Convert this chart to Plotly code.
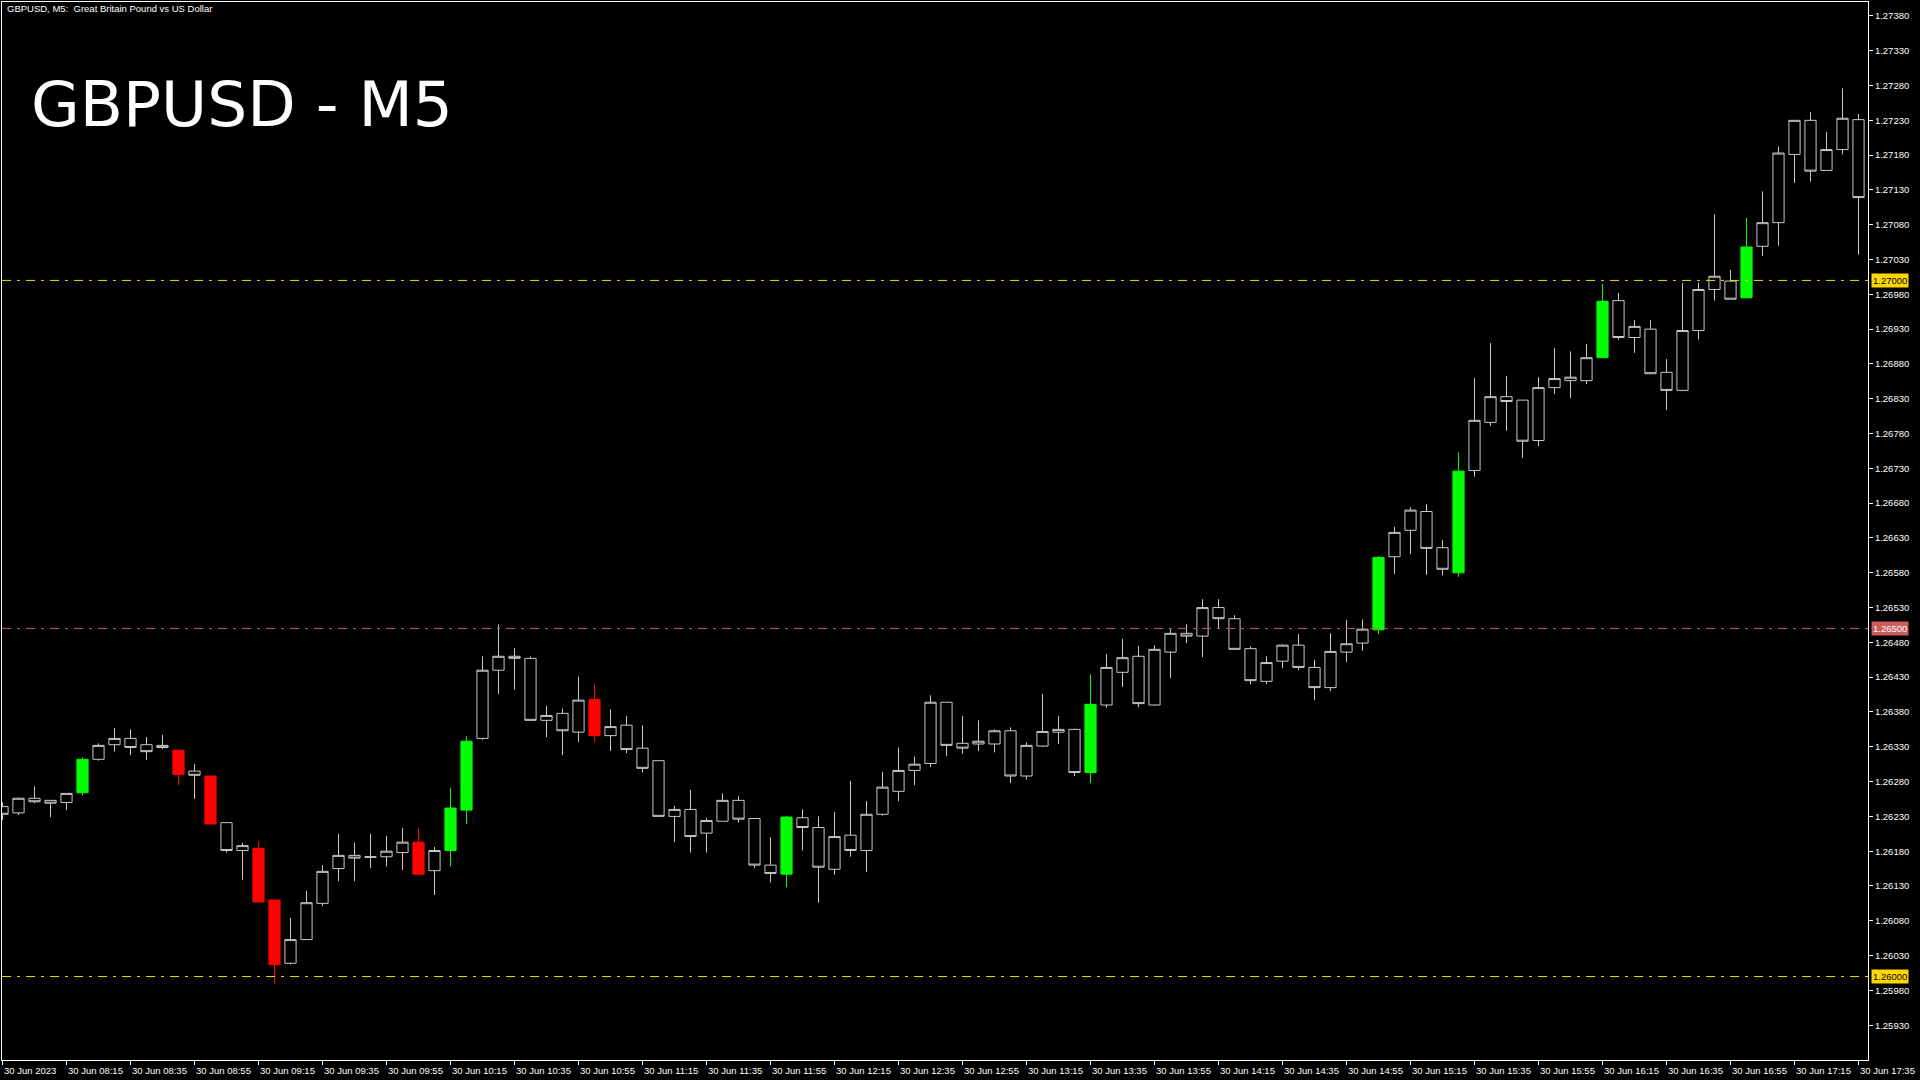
import plotly.graph_objects as go
import pandas as pd

# ---------------- data ----------------
header_text = "GBPUSD, M5:  Great Britain Pound vs US Dollar"
big_title = "GBPUSD - M5"
start_time = "2023-06-30 07:55"

opens = [1.26244, 1.26235, 1.26256, 1.26253, 1.26250, 1.26264, 1.26312, 1.26333, 1.26342, 1.26333,
         1.26329, 1.26325, 1.26295, 1.26288, 1.26221, 1.26181, 1.26184, 1.26110, 1.26019, 1.26053,
         1.26105, 1.26155, 1.26174, 1.26171, 1.26172, 1.26178, 1.26193, 1.26152, 1.26181, 1.26239,
         1.26342, 1.26440, 1.26460, 1.26457, 1.26368, 1.26378, 1.26351, 1.26398, 1.26346, 1.26361,
         1.26328, 1.26310, 1.26230, 1.26240, 1.26206, 1.26223, 1.26253, 1.26227, 1.26160, 1.26147,
         1.26228, 1.26214, 1.26154, 1.26203, 1.26181, 1.26233, 1.26266, 1.26296, 1.26306, 1.26394,
         1.26335, 1.26334, 1.26334, 1.26353, 1.26288, 1.26331, 1.26351, 1.26355, 1.26293, 1.26390,
         1.26437, 1.26460, 1.26390, 1.26466, 1.26493, 1.26489, 1.26530, 1.26514, 1.26471, 1.26424,
         1.26453, 1.26476, 1.26444, 1.26415, 1.26466, 1.26479, 1.26498, 1.26603, 1.26641, 1.26668,
         1.26616, 1.26580, 1.26727, 1.26796, 1.26833, 1.26828, 1.26770, 1.26846, 1.26856, 1.26856,
         1.26889, 1.26971, 1.26918, 1.26930, 1.26868, 1.26842, 1.26928, 1.26987, 1.26999, 1.26975,
         1.27049, 1.27083, 1.27181, 1.27230, 1.27158, 1.27188, 1.27231]
highs = [1.26250, 1.26257, 1.26273, 1.26253, 1.26263, 1.26315, 1.26335, 1.26357, 1.26355, 1.26344,
         1.26347, 1.26325, 1.26305, 1.26288, 1.26221, 1.26192, 1.26194, 1.26110, 1.26084, 1.26123,
         1.26160, 1.26205, 1.26192, 1.26205, 1.26202, 1.26213, 1.26213, 1.26186, 1.26271, 1.26345,
         1.26460, 1.26506, 1.26472, 1.26460, 1.26389, 1.26385, 1.26431, 1.26421, 1.26384, 1.26374,
         1.26361, 1.26310, 1.26245, 1.26268, 1.26228, 1.26263, 1.26259, 1.26227, 1.26200, 1.26231,
         1.26240, 1.26230, 1.26236, 1.26281, 1.26252, 1.26294, 1.26329, 1.26316, 1.26404, 1.26394,
         1.26374, 1.26368, 1.26355, 1.26358, 1.26336, 1.26406, 1.26374, 1.26356, 1.26434, 1.26463,
         1.26485, 1.26475, 1.26476, 1.26499, 1.26506, 1.26542, 1.26542, 1.26519, 1.26474, 1.26460,
         1.26477, 1.26492, 1.26455, 1.26493, 1.26512, 1.26513, 1.26604, 1.26646, 1.26674, 1.26679,
         1.26627, 1.26753, 1.26860, 1.26910, 1.26863, 1.26828, 1.26861, 1.26903, 1.26898, 1.26909,
         1.26995, 1.26982, 1.26943, 1.26943, 1.26887, 1.26996, 1.26997, 1.27095, 1.27015, 1.27090,
         1.27128, 1.27192, 1.27230, 1.27242, 1.27213, 1.27276, 1.27239]
lows = [1.26225, 1.26232, 1.26249, 1.26229, 1.26239, 1.26260, 1.26310, 1.26323, 1.26318, 1.26311,
        1.26327, 1.26275, 1.26255, 1.26219, 1.26178, 1.26139, 1.26107, 1.25990, 1.26017, 1.26053,
        1.26101, 1.26137, 1.26137, 1.26156, 1.26158, 1.26153, 1.26145, 1.26117, 1.26158, 1.26219,
        1.26340, 1.26406, 1.26412, 1.26368, 1.26344, 1.26318, 1.26337, 1.26337, 1.26324, 1.26321,
        1.26293, 1.26230, 1.26193, 1.26178, 1.26178, 1.26223, 1.26221, 1.26156, 1.26135, 1.26128,
        1.26181, 1.26106, 1.26146, 1.26172, 1.26150, 1.26231, 1.26252, 1.26275, 1.26301, 1.26317,
        1.26320, 1.26324, 1.26322, 1.26278, 1.26283, 1.26330, 1.26334, 1.26288, 1.26278, 1.26386,
        1.26416, 1.26387, 1.26389, 1.26429, 1.26479, 1.26459, 1.26500, 1.26470, 1.26420, 1.26420,
        1.26443, 1.26440, 1.26397, 1.26410, 1.26452, 1.26468, 1.26492, 1.26578, 1.26607, 1.26577,
        1.26576, 1.26574, 1.26718, 1.26791, 1.26784, 1.26745, 1.26762, 1.26837, 1.26831, 1.26851,
        1.26889, 1.26915, 1.26896, 1.26866, 1.26814, 1.26841, 1.26915, 1.26971, 1.26973, 1.26975,
        1.27035, 1.27050, 1.27140, 1.27142, 1.27158, 1.27181, 1.27037]
closes = [1.26233, 1.26256, 1.26251, 1.26249, 1.26263, 1.26312, 1.26332, 1.26342, 1.26329, 1.26323,
          1.26332, 1.26290, 1.26289, 1.26219, 1.26181, 1.26188, 1.26107, 1.26017, 1.26053, 1.26106,
          1.26151, 1.26174, 1.26170, 1.26172, 1.26180, 1.26193, 1.26147, 1.26181, 1.26242, 1.26338,
          1.26440, 1.26460, 1.26457, 1.26368, 1.26375, 1.26353, 1.26397, 1.26346, 1.26359, 1.26326,
          1.26299, 1.26230, 1.26240, 1.26201, 1.26224, 1.26253, 1.26226, 1.26160, 1.26148, 1.26229,
          1.26214, 1.26157, 1.26201, 1.26181, 1.26233, 1.26272, 1.26296, 1.26305, 1.26394, 1.26332,
          1.26328, 1.26338, 1.26353, 1.26288, 1.26332, 1.26352, 1.26355, 1.26293, 1.26391, 1.26444,
          1.26458, 1.26392, 1.26470, 1.26493, 1.26489, 1.26530, 1.26514, 1.26470, 1.26425, 1.26451,
          1.26476, 1.26444, 1.26415, 1.26467, 1.26478, 1.26499, 1.26602, 1.26638, 1.26670, 1.26615,
          1.26585, 1.26726, 1.26799, 1.26833, 1.26826, 1.26769, 1.26846, 1.26859, 1.26861, 1.26889,
          1.26970, 1.26918, 1.26934, 1.26866, 1.26842, 1.26928, 1.26987, 1.27006, 1.26973, 1.27048,
          1.27083, 1.27183, 1.27230, 1.27157, 1.27188, 1.27233, 1.27119]

bull_signal_idx = [5, 28, 29, 49, 68, 86, 91, 100, 109]
bear_signal_idx = [11, 13, 16, 17, 26, 37]

level_prices = [1.27000, 1.26000]
mid_level_price = 1.26500

price_ticks = [1.27380, 1.27330, 1.27280, 1.27230, 1.27180, 1.27130, 1.27080, 1.27030,
               1.26980, 1.26930, 1.26880, 1.26830, 1.26780, 1.26730, 1.26680, 1.26630,
               1.26580, 1.26530, 1.26480, 1.26430, 1.26380, 1.26330, 1.26280, 1.26230,
               1.26180, 1.26130, 1.26080, 1.26030, 1.25980, 1.25930]
y_min, y_max = 1.25880, 1.27400

# ---------------- build ----------------
times = pd.date_range(start_time, periods=len(opens), freq="5min")
bar = pd.Timedelta(minutes=5)

def subset(idx):
    return dict(x=[times[i] for i in idx], open=[opens[i] for i in idx],
                high=[highs[i] for i in idx], low=[lows[i] for i in idx],
                close=[closes[i] for i in idx])

signal = set(bull_signal_idx) | set(bear_signal_idx)
normal_idx = [i for i in range(len(opens)) if i not in signal]

GRAY = "#C8C8C8"
GREEN = "#00FF00"
RED = "#FF0000"
GOLD = "#FFD700"
INDRED = "#CD5C5C"

def style(color, fill):
    s = dict(line=dict(color=color, width=1), fillcolor=fill)
    return dict(increasing=s, decreasing=s)

fig = go.Figure()
fig.add_trace(go.Candlestick(**subset(normal_idx), **style(GRAY, "#000000"),
                             whiskerwidth=0, hoverinfo="skip", name="bars"))
fig.add_trace(go.Candlestick(**subset(bull_signal_idx), **style(GREEN, GREEN),
                             whiskerwidth=0, hoverinfo="skip", name="bull"))
fig.add_trace(go.Candlestick(**subset(bear_signal_idx), **style(RED, RED),
                             whiskerwidth=0, hoverinfo="skip", name="bear"))

dash = "9px,6px,3px,6px"
shapes = []
for p in level_prices:
    shapes.append(dict(type="line", xref="paper", x0=0, x1=1, yref="y", y0=p, y1=p,
                       line=dict(color=GOLD, width=1, dash=dash)))
shapes.append(dict(type="line", xref="paper", x0=0, x1=1, yref="y", y0=mid_level_price,
                   y1=mid_level_price, line=dict(color=INDRED, width=1, dash=dash)))

FAM = "Liberation Sans, Arial, sans-serif"
font_small = dict(family=FAM, size=9.5, color="white")

annotations = []
# time labels (left aligned after each tick)
tick_times = list(times[::4])
for k, t in enumerate(tick_times):
    label = t.strftime("%d %b %Y") if k == 0 else t.strftime("%d %b %H:%M")
    annotations.append(dict(x=t, xref="x", y=0, yref="paper", yanchor="top", xanchor="left",
                            yshift=-4, xshift=0, text=label, showarrow=False, font=font_small,
                            borderpad=0))
# price level labels
for p in level_prices:
    annotations.append(dict(x=1, xref="paper", xanchor="left", xshift=3, y=p, yref="y",
                            yanchor="middle", text=f"{p:.5f}", showarrow=False,
                            bgcolor=GOLD, borderpad=1,
                            font=dict(family=FAM, size=9.5, color="black")))
annotations.append(dict(x=1, xref="paper", xanchor="left", xshift=3, y=mid_level_price, yref="y",
                        yanchor="middle", text=f"{mid_level_price:.5f}", showarrow=False,
                        bgcolor=INDRED, borderpad=1,
                        font=dict(family=FAM, size=9.5, color="white")))
# headers
annotations.append(dict(x=0, xref="paper", xanchor="left", xshift=3, y=1, yref="paper",
                        yanchor="top", yshift=1, text=header_text, showarrow=False,
                        font=dict(family=FAM, size=9.5, color="white")))
annotations.append(dict(x=0, xref="paper", xanchor="left", xshift=27, y=1, yref="paper",
                        yanchor="top", yshift=-64, text=big_title, showarrow=False,
                        font=dict(family="DejaVu Sans, sans-serif", size=63, color="white")))

fig.update_layout(
    width=1920, height=1080,
    paper_bgcolor="black", plot_bgcolor="black",
    margin=dict(l=2, r=52, t=2, b=20),
    showlegend=False,
    boxgap=0.3, boxgroupgap=0,
    shapes=shapes, annotations=annotations,
    xaxis=dict(type="date", range=[times[0] - 0.03125 * bar, times[0] + 116.59375 * bar],
               rangeslider=dict(visible=False), showgrid=False, zeroline=False,
               showline=True, linecolor="white", linewidth=1, mirror=True,
               tickvals=tick_times, showticklabels=False, ticks="outside", ticklen=4,
               tickcolor="white", tickwidth=1, fixedrange=True),
    yaxis=dict(side="right", range=[y_min, y_max], showgrid=False, zeroline=False,
               showline=True, linecolor="white", linewidth=1, mirror=True,
               tickvals=price_ticks, tickformat=".5f", ticks="outside", ticklen=4,
               tickcolor="white", tickwidth=1, tickfont=font_small, fixedrange=True),
)

fig.write_html("out.html", config={"displayModeBar": False},
               post_script="document.body.style.margin='0';document.body.style.padding='0';"
                           "document.body.style.background='black';")
